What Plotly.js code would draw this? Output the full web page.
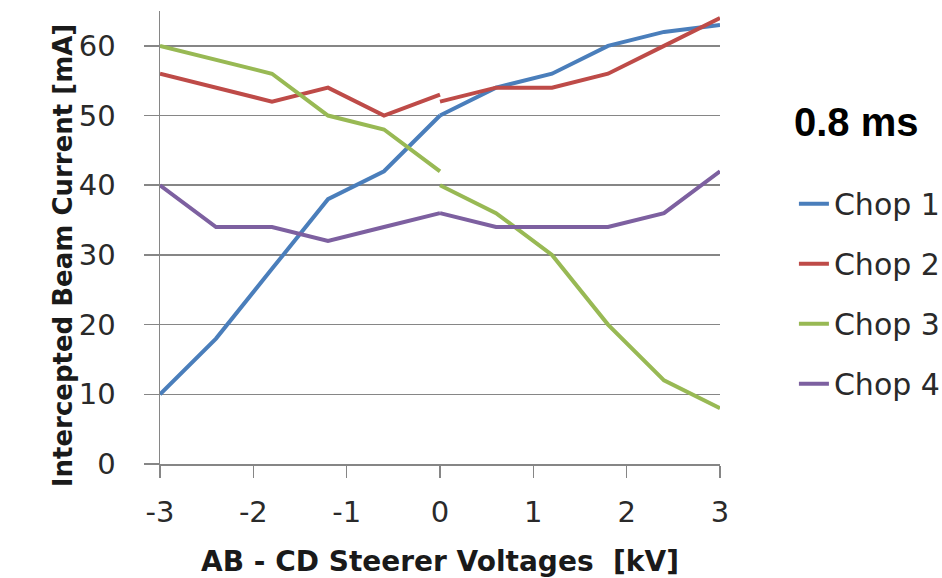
<!DOCTYPE html>
<html>
<head>
<meta charset="utf-8">
<script src="https://cdn.plot.ly/plotly-3.0.1.min.js"></script>
<style>html,body{margin:0;padding:0;background:#fff;}#chart{width:942px;height:578px;}</style>
</head>
<body>
<div id="chart"></div>
<script>
// Steerer voltage (kV): measurements on the negative side and the positive side (two points at 0)
var xNeg = [-3, -2.4, -1.8, -1.2, -0.6, 0];
var xPos = [0, 0.6, 1.2, 1.8, 2.4, 3];

// Intercepted beam current (mA)
var chop1Neg = [10, 18, 28, 38, 42, 50];
var chop1Pos = [50, 54, 56, 60, 62, 63];
var chop2Neg = [56, 54, 52, 54, 50, 53];
var chop2Pos = [52, 54, 54, 56, 60, 64];
var chop3Neg = [60, 58, 56, 50, 48, 42];
var chop3Pos = [40, 36, 30, 20, 12, 8];
var chop4Neg = [40, 34, 34, 32, 34, 36];
var chop4Pos = [36, 34, 34, 34, 36, 42];

var seriesNames = ["Chop 1", "Chop 2", "Chop 3", "Chop 4"];
var xTicks = [-3, -2, -1, 0, 1, 2, 3];
var yTicks = [0, 10, 20, 30, 40, 50, 60];

var colors = ["#4a7ebb", "#be4b48", "#98b954", "#7d60a0"];
var negs = [chop1Neg, chop2Neg, chop3Neg, chop4Neg];
var poss = [chop1Pos, chop2Pos, chop3Pos, chop4Pos];

var xAll = xNeg.concat([null], xPos);
var traces = seriesNames.map(function (name, i) {
  return {
    type: "scatter",
    mode: "lines",
    name: name,
    legendgroup: "g" + i,
    x: xAll,
    y: negs[i].concat([null], poss[i]),
    connectgaps: false,
    line: { color: colors[i], width: 4 },
    hoverinfo: "x+y+name"
  };
});

var gray = "#868686";
var fam = "DejaVu Sans, sans-serif";
var tickFont = { family: fam, size: 29, color: "#2a2a2a" };

var layout = {
  width: 942,
  height: 578,
  margin: { l: 160, r: 222, t: 11, b: 114, autoexpand: false },
  paper_bgcolor: "#ffffff",
  plot_bgcolor: "#ffffff",
  showlegend: true,
  legend: {
    x: 1.132, xanchor: "left",
    y: 0.632, yanchor: "top",
    traceorder: "grouped",
    tracegroupgap: 18,
    font: { family: fam, size: 30, color: "#2a2a2a" },
    bgcolor: "rgba(0,0,0,0)"
  },
  xaxis: {
    range: [-3, 3],
    tickvals: xTicks,
    ticktext: xTicks.map(String),
    ticks: "outside",
    ticklen: 12,
    tickwidth: 1.5,
    tickcolor: gray,
    showline: true,
    linecolor: gray,
    linewidth: 1.5,
    showgrid: false,
    zeroline: false,
    tickfont: tickFont,
    ticklabelstandoff: 10,
    automargin: false,
    title: {
      text: "AB - CD Steerer Voltages  [kV]",
      font: { family: fam, size: 28, color: "#1a1a1a", weight: "bold" },
      standoff: 24
    }
  },
  yaxis: {
    range: [0, 65],
    tickvals: yTicks,
    ticktext: yTicks.map(String),
    ticks: "outside",
    ticklen: 15,
    tickwidth: 1.5,
    tickcolor: gray,
    showline: true,
    linecolor: gray,
    linewidth: 1.5,
    showgrid: true,
    gridcolor: gray,
    gridwidth: 1.5,
    zeroline: false,
    tickfont: tickFont,
    ticklabelstandoff: 22,
    automargin: false
  },
  annotations: [{
    xref: "paper", yref: "paper",
    x: -0.173, y: 0.459,
    xanchor: "center", yanchor: "middle",
    textangle: -90,
    showarrow: false,
    text: "<b>Intercepted Beam Current [mA]</b>",
    font: { family: fam, size: 26, color: "#1a1a1a" }
  }, {
    xref: "paper", yref: "paper",
    x: 1.2437, y: 0.755,
    xanchor: "center", yanchor: "middle",
    showarrow: false,
    text: "<b>0.8 ms</b>",
    font: { family: "Liberation Sans, Arial, sans-serif", size: 40, color: "#000000" }
  }]
};

Plotly.newPlot("chart", traces, layout, { displayModeBar: false, staticPlot: true });
</script>
</body>
</html>
